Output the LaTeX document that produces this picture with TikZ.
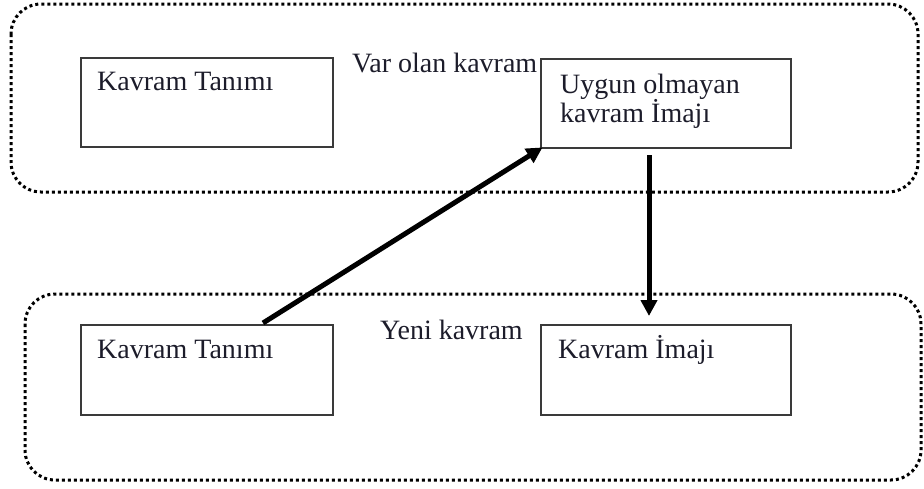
\documentclass[tikz,border=0pt]{standalone}
\usepackage{fontspec}
\setmainfont{Liberation Serif}
\usetikzlibrary{arrows.meta}
\definecolor{boxline}{HTML}{3A3A3A}
\definecolor{inktext}{HTML}{1C1C2A}
\begin{document}
\begin{tikzpicture}[x=1pt,y=-1pt,
  group/.style={line width=3pt,dash pattern=on 3pt off 3pt,rounded corners=30pt},
  conceptbox/.style={draw=boxline,line width=2pt,rectangle,anchor=north west,inner sep=0pt},
  lbl/.style={anchor=base west,inner sep=0pt,text=inktext,font=\fontsize{28}{30}\selectfont},
  arr/.style={line width=5pt,-{Triangle[length=16pt,width=16pt]}}]
\useasboundingbox (0,0) rectangle (924,488);

% two dotted groups
\draw[group] (11,4) rectangle (918,192);
\draw[group] (25,294) rectangle (921,480);

% concept boxes
\node[conceptbox,minimum width=252pt,minimum height=89pt] (def1) at (80,57) {};
\node[conceptbox,minimum width=250pt,minimum height=89pt] (img1) at (540,58) {};
\node[conceptbox,minimum width=252pt,minimum height=90pt] (def2) at (80,324) {};
\node[conceptbox,minimum width=250pt,minimum height=90pt] (img2) at (540,324) {};

% texts
\node[lbl] (t1) at (97,90) {Kavram Tanımı};
\node[lbl] (g1) at (352,72) {Var olan kavram};
\node[lbl] (t2a) at (560,93) {Uygun olmayan};
\node[lbl] (t2b) at (560,122.5) {kavram İmajı};
\node[lbl] (t3) at (97,358) {Kavram Tanımı};
\node[lbl] (g2) at (380,339) {Yeni kavram};
\node[lbl] (t4) at (558,358) {Kavram İmajı};

% connectors
\coordinate (s1) at (263,323);
\draw[arr,shorten >=-3pt] (s1) -- (img1.south west);
\draw[arr] ([xshift=109pt,yshift=-6pt]img1.south west) -- ([xshift=109pt,yshift=8pt]img2.north west);
\end{tikzpicture}
\end{document}
